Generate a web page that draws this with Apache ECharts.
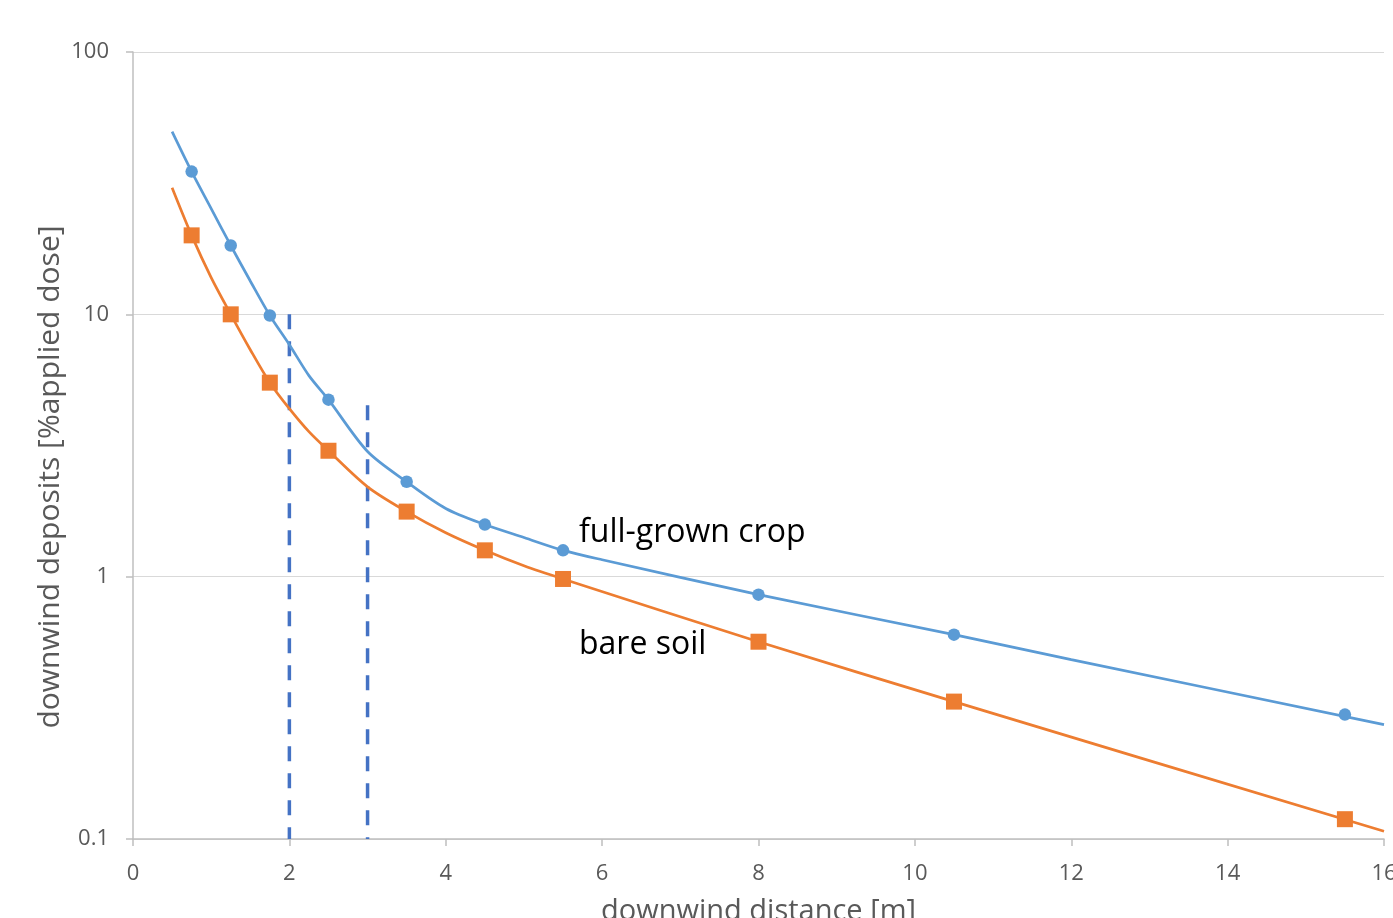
<!DOCTYPE html>
<html><head><meta charset="utf-8">
<script src="https://cdn.jsdelivr.net/npm/echarts@6/dist/echarts.min.js"></script>
<style>html,body{margin:0;padding:0;background:#fff;overflow:hidden}#c{width:1393px;height:918px}</style>
</head><body><div id="c"></div>
<script>
// Marker points
const markerX = [0.75, 1.25, 1.75, 2.5, 3.5, 4.5, 5.5, 8, 10.5, 15.5];
const cropMarkers = [35, 18.3, 9.9, 4.73, 2.30, 1.58, 1.26, 0.854, 0.601, 0.298];
const soilMarkers = [20, 10, 5.49, 3.02, 1.77, 1.26, 0.98, 0.565, 0.334, 0.119];
// Curve points
const cropCurveX = [0.5, 0.75, 1.0, 1.25, 1.5, 1.75, 2, 2.25, 2.5, 3, 3.5, 4, 4.5, 5, 5.5, 6, 8, 10.5, 12, 16];
const cropCurveY = [49.7, 35, 25.3, 18.3, 13.4, 9.9, 7.66, 5.84, 4.73, 3.0, 2.30, 1.82, 1.58, 1.41, 1.26, 1.16, 0.854, 0.601, 0.483, 0.273];
const soilCurveX = [0.5, 0.75, 1.0, 1.25, 1.5, 1.75, 2, 2.25, 2.5, 3, 3.5, 4, 4.5, 5, 5.5, 8, 10.5, 16];
const soilCurveY = [30.4, 20, 13.8, 10, 7.33, 5.49, 4.37, 3.57, 3.02, 2.2, 1.77, 1.47, 1.26, 1.10, 0.98, 0.565, 0.334, 0.107];
// Dashed reference lines [x, top, bottom]
const refLines = [[2, 10, 0.1], [3, 4.5, 0.1]];
const xTicks = {min: 0, max: 16, interval: 2};
const yRange = {min: 0.1, max: 100};
const seriesNames = ['full-grown crop', 'bare soil'];
const xTitle = 'downwind distance [m]';
const yTitle = 'downwind deposits [%applied dose]';

const zip = (xs, ys) => xs.map((x, i) => [x, ys[i]]);
const BLUE = '#5B9BD5', ORANGE = '#ED7D31', DASH = '#4472C4';
const font = '"Open Sans", "Liberation Sans", sans-serif';

const chart = echarts.init(document.getElementById('c'), null, {renderer: 'canvas'});
const series = [
  {type: 'line', data: zip(cropCurveX, cropCurveY), smooth: 0.3, showSymbol: false, symbol: 'none',
   lineStyle: {color: BLUE, width: 2.7}, z: 3, silent: true},
  {type: 'line', data: zip(soilCurveX, soilCurveY), smooth: 0.3, showSymbol: false, symbol: 'none',
   lineStyle: {color: ORANGE, width: 2.7}, z: 3, silent: true},
  {type: 'scatter', name: seriesNames[0], data: zip(markerX, cropMarkers), symbol: 'circle', symbolSize: 12.5,
   itemStyle: {color: BLUE, opacity: 1}, z: 4},
  {type: 'scatter', name: seriesNames[1], data: zip(markerX, soilMarkers), symbol: 'rect', symbolSize: 16,
   itemStyle: {color: ORANGE, opacity: 1}, z: 4}
];
refLines.forEach(r => series.push({
  type: 'line', data: [[r[0], r[1]], [r[0], r[2]]], symbol: 'none',
  lineStyle: {color: DASH, width: 3.5, type: [15, 12]}, z: 2, silent: true
}));

chart.setOption({
  animation: false,
  grid: {left: 133, right: 9, top: 52, bottom: 79, containLabel: false, outerBoundsMode: 'none'},
  xAxis: {
    type: 'value', min: xTicks.min, max: xTicks.max, interval: xTicks.interval,
    name: xTitle, nameLocation: 'middle', nameGap: 58,
    nameTextStyle: {fontSize: 29, color: '#595959', fontFamily: font},
    axisLine: {show: true, lineStyle: {color: '#bfbfbf', width: 1.5}},
    axisTick: {show: true, length: 7, lineStyle: {color: '#bfbfbf', width: 1.5}},
    axisLabel: {fontSize: 22, color: '#595959', margin: 24, fontFamily: font},
    splitLine: {show: false}
  },
  yAxis: {
    type: 'log', logBase: 10, min: yRange.min, max: yRange.max,
    axisLine: {show: true, lineStyle: {color: '#bfbfbf', width: 1.5}},
    axisTick: {show: true, length: 7, lineStyle: {color: '#bfbfbf', width: 1.5}},
    axisLabel: {fontSize: 22, color: '#595959', margin: 24, fontFamily: font,
      formatter: v => String(Number(v.toPrecision(3)))},
    splitLine: {show: true, lineStyle: {color: '#d9d9d9', width: 1.2}},
    minorTick: {show: false}
  },
  graphic: [
    {type: 'text', x: 50, y: 477, rotation: Math.PI / 2,
     style: {text: yTitle, fill: '#595959', font: '30px ' + font, textAlign: 'center', textVerticalAlign: 'middle'}},
    {type: 'text', left: 579, top: 517, style: {text: seriesNames[0], fill: '#000', font: '32px ' + font}},
    {type: 'text', left: 579, top: 629, style: {text: seriesNames[1], fill: '#000', font: '32px ' + font}}
  ],
  series: series
});
</script></body></html>
